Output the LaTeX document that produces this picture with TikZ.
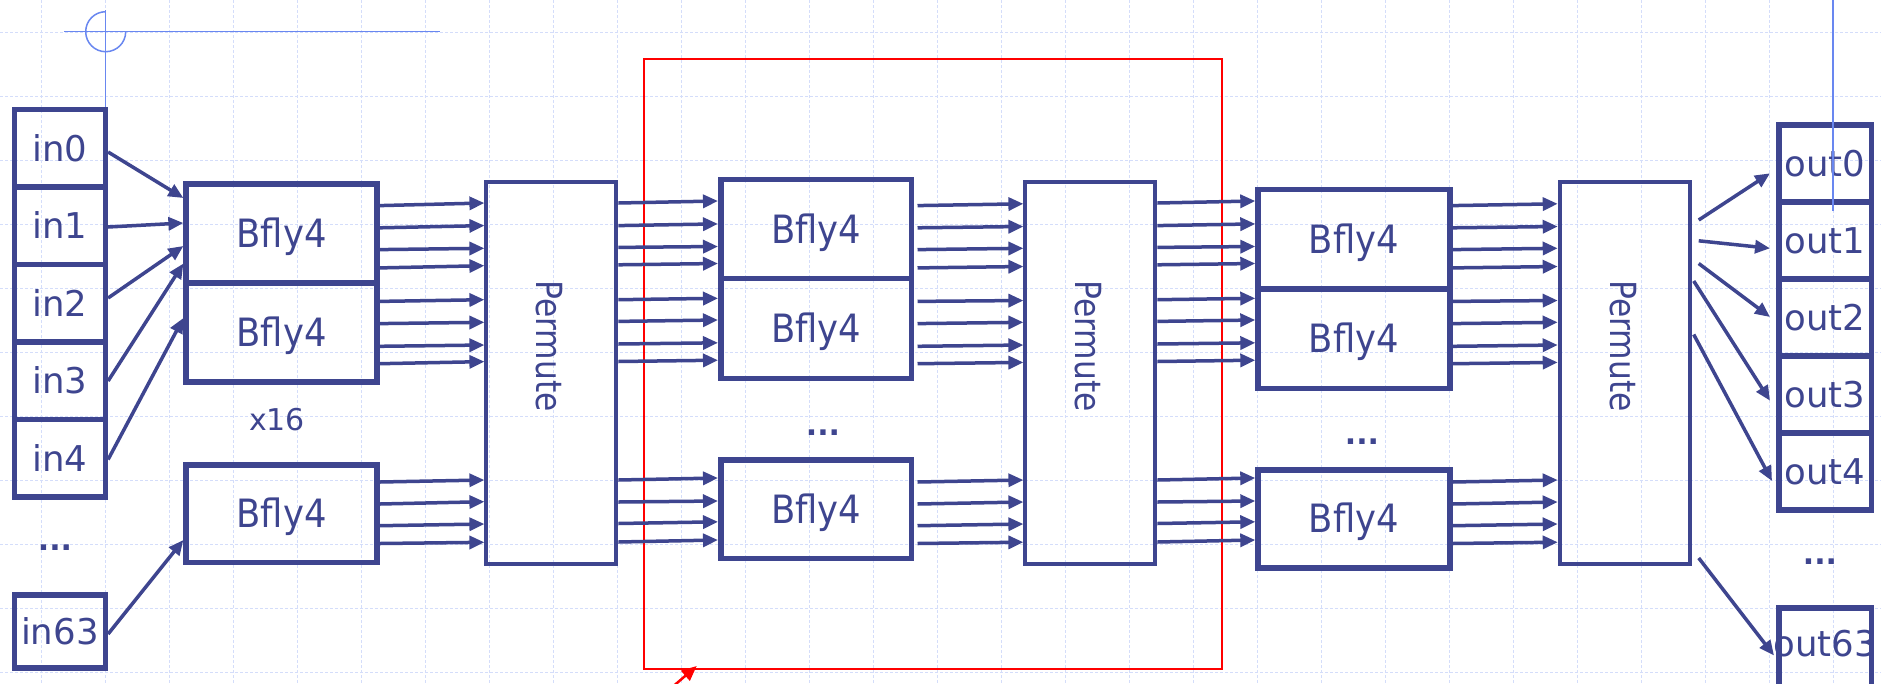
\documentclass[tikz,border=0pt]{standalone}
\usepackage{fontspec}
\setmainfont{DejaVu Sans}
\usetikzlibrary{arrows.meta,calc}
\definecolor{navy}{RGB}{62,69,143}
\definecolor{gridc}{RGB}{212,221,250}
\definecolor{markc}{RGB}{105,135,240}
\newcommand{\bigf}{\fontsize{35.5}{40}\selectfont}
\newcommand{\bflyf}{\fontsize{39}{44}\selectfont}
\newcommand{\permf}{\fontsize{36}{40}\selectfont}
\newcommand{\midf}{\fontsize{30}{34}\selectfont}
\newcommand{\bflylabel}{\scalebox{0.907}[1]{Bfly4}}
\newcommand{\permlabel}{\scalebox{0.87}[1]{Permute}}
\begin{document}
\begin{tikzpicture}[x=1pt,y=-1pt,
 gridline/.style={draw=gridc,line width=1.2pt,dash pattern=on 3pt off 2pt},
 markline/.style={draw=markc,line width=1.5pt},
 iobox/.style={draw=navy,line width=5.5pt,minimum width=91pt,minimum height=77.5pt,inner sep=0pt,text=navy,font=\bigf},
 bfly/.style={draw=navy,line width=5.5pt,minimum width=191pt,minimum height=99pt,inner sep=0pt,text=navy,font=\bflyf,text height=28pt,text depth=0pt},
 perm/.style={draw=navy,line width=4pt,minimum width=130pt,minimum height=382pt,inner sep=0pt},
 permtext/.style={rotate=-90,text=navy,font=\permf,inner sep=0pt},
 dots/.style={text=navy,font=\midf\bfseries,inner sep=0pt},
 arr/.style={draw=navy,line width=3.5pt,-{Triangle[length=15pt,width=13pt]}},
 redarr/.style={draw=red,line width=2.5pt,-{Triangle[length=15pt,width=13pt]}}]
\useasboundingbox (0,0) rectangle (1881,683);
\clip (0,0) rectangle (1881,683);
\fill[white] (0,0) rectangle (1881,683);
% background grid
\foreach \i in {0,...,28} \draw[gridline] ({41.7+64*\i},0) -- ({41.7+64*\i},683);
\foreach \j in {0,...,10} \draw[gridline] (0,{32.7+64*\j}) -- (1881,{32.7+64*\j});

% input boxes
\node[iobox] (i0) at (59.85,148) {in0};
\node[iobox] (i1) at (59.85,225.5) {in1};
\node[iobox] (i2) at (59.85,303) {in2};
\node[iobox] (i3) at (59.85,380.5) {in3};
\node[iobox] (i4) at (59.85,458) {in4};
\node[dots] (idots) at (55,548) {...};
\node[iobox,minimum height=73pt] (i63) at (59.85,631.5) {in63};

% marker lines
\draw[markline] (64,31.7) -- (440,31.7);
\draw[markline] (105.7,10) -- (i0.north -| 105.7,0);
\draw[markline] (105.7,11.7) arc[start angle=90,end angle=360,radius=20pt];

% butterfly column 1
\node[bfly] (B1a) at (281.65,233.5) {\bflylabel};
\node[bfly] (B1b) at (281.65,332.5) {\bflylabel};
\node[bfly,minimum height=97.5pt] (B1c) at (281.65,513.75) {\bflylabel};
\node[text=navy,font=\midf,inner sep=0pt] (x16) at (277,420) {x16};

% permute 1
\node[perm] (P1) at (551.4,373) {};
\node[permtext] (P1t) at (549.5,346) {\permlabel};

% red frame
\node[draw=red,line width=2pt,minimum width=578pt,minimum height=610pt,inner sep=0pt] (redbox) at (933,364) {};
\coordinate (rtail) at (655,702);
\coordinate (rtip) at (696.7,666);
\draw[redarr] (rtail) -- (rtip);

% butterfly column 2
\node[bfly,minimum width=190.5pt] (B2a) at (816,229.2) {\bflylabel};
\node[bfly,minimum width=190.5pt,minimum height=100pt] (B2b) at (816,328.7) {\bflylabel};
\node[bfly,minimum width=190.5pt,minimum height=98.6pt] (B2c) at (816,509.3) {\bflylabel};
\node[dots] (mdots) at (823,432.5) {...};

% permute 2
\node[perm] (P2) at (1090.4,373) {};
\node[permtext] (P2t) at (1088,346) {\permlabel};

% butterfly column 3
\node[bfly,minimum width=191.7pt,minimum height=99.5pt] (B3a) at (1353.9,239.25) {\bflylabel};
\node[bfly,minimum width=191.7pt,minimum height=99.3pt] (B3b) at (1353.9,338.6) {\bflylabel};
\node[bfly,minimum width=191.7pt,minimum height=98.2pt] (B3c) at (1353.9,518.9) {\bflylabel};
\node[dots] (rdots) at (1362,442) {...};

% permute 3
\node[perm] (P3) at (1624.7,373) {};
\node[permtext] (P3t) at (1623,346) {\permlabel};

% output boxes
\node[iobox,minimum width=92.5pt,minimum height=77pt] (o0) at (1825,163.5) {out0};
\node[iobox,minimum width=92.5pt,minimum height=77pt] (o1) at (1825,240.5) {out1};
\node[iobox,minimum width=92.5pt,minimum height=77pt] (o2) at (1825,317.5) {out2};
\node[iobox,minimum width=92.5pt,minimum height=77pt] (o3) at (1825,394.5) {out3};
\node[iobox,minimum width=92.5pt,minimum height=77pt] (o4) at (1825,471.5) {out4};
\node[dots] (odots) at (1820,562) {...};
\node[iobox,minimum width=92.5pt,minimum height=84pt] (o63) at (1825,650) {};
\node[text=navy,font=\bigf,inner sep=0pt] (o63t) at (1825,644) {out63};

% input arrows
\draw[arr] (i0.east |- 0,152) -- (B1a.west |- 0,198);
\draw[arr] (i1.east |- 0,227) -- (B1a.west |- 0,223);
\draw[arr] (i2.east |- 0,298) -- (B1a.west |- 0,246);
\draw[arr] (i3.east |- 0,381) -- (B1a.west |- 0,263.5);
\draw[arr] (i4.east |- 0,459.5) -- (B1b.west |- 0,318);
\draw[arr] (i63.east |- 0,634) -- (B1c.west |- 0,540);

% column 1 -> permute 1
\foreach \a/\b in {205.6/203,227.8/225.6,249.6/248.3,267.9/265.7}
  \draw[arr] (B1a.east |- 0,\a) -- (P1.west |- 0,\b);
\foreach \a/\b in {301.4/299.7,323.6/322.3,346.3/345,363.7/361.6}
  \draw[arr] (B1b.east |- 0,\a) -- (P1.west |- 0,\b);
\foreach \a/\b in {482/480,504/501.7,525.7/524,543.5/542.3}
  \draw[arr] (B1c.east |- 0,\a) -- (P1.west |- 0,\b);

% permute 1 -> column 2
\foreach \a/\b in {203/201,225.6/223.9,247.4/246.5,264.8/263.5}
  \draw[arr] (P1.east |- 0,\a) -- (B2a.west |- 0,\b);
\foreach \a/\b in {299.7/298.3,321.4/320,344/342.8,361.5/360.2}
  \draw[arr] (P1.east |- 0,\a) -- (B2b.west |- 0,\b);
\foreach \a/\b in {480/478,502/501,523.5/521.8,542/540}
  \draw[arr] (P1.east |- 0,\a) -- (B2c.west |- 0,\b);

% column 2 -> permute 2
\foreach \a/\b in {205.6/203.8,227.8/226.5,249.6/248.3,267.9/266.5}
  \draw[arr] ($(B2a.east |- 0,\a)+(3.5,0)$) -- (P2.west |- 0,\b);
\foreach \a/\b in {301.4/300.5,323.6/322.3,346.3/345,363.7/362.4}
  \draw[arr] ($(B2b.east |- 0,\a)+(3.5,0)$) -- (P2.west |- 0,\b);
\foreach \a/\b in {482/480,504/502,525.7/524,543.5/542.2}
  \draw[arr] ($(B2c.east |- 0,\a)+(3.5,0)$) -- (P2.west |- 0,\b);

% permute 2 -> column 3
\foreach \a/\b in {203/201,225.6/223.9,247.4/246.5,264.8/263.5}
  \draw[arr] (P2.east |- 0,\a) -- (B3a.west |- 0,\b);
\foreach \a/\b in {299.7/298.3,321.4/320,344/342.8,361.5/360.2}
  \draw[arr] (P2.east |- 0,\a) -- (B3b.west |- 0,\b);
\foreach \a/\b in {480/478,502/501,523.5/521.8,542/540}
  \draw[arr] (P2.east |- 0,\a) -- (B3c.west |- 0,\b);

% column 3 -> permute 3
\foreach \a/\b in {205.6/203.8,227.8/226.5,249.6/248.3,267.9/266.5}
  \draw[arr] (B3a.east |- 0,\a) -- (P3.west |- 0,\b);
\foreach \a/\b in {301.4/300.5,323.6/322.3,346.3/345,363.7/362.4}
  \draw[arr] (B3b.east |- 0,\a) -- (P3.west |- 0,\b);
\foreach \a/\b in {482/480,504/502,525.7/524,543.5/542.2}
  \draw[arr] (B3c.east |- 0,\a) -- (P3.west |- 0,\b);

% permute 3 -> outputs
\draw[arr] ($(P3.east |- 0,220)+(7,0)$) -- ($(o0.west |- 0,173.3)+(-6,0)$);
\draw[arr] ($(P3.east |- 0,240.8)+(7,0)$) -- ($(o1.west |- 0,248.3)+(-6,0)$);
\draw[arr] ($(P3.east |- 0,263.5)+(7,0)$) -- ($(o2.west |- 0,317)+(-6,0)$);
\draw[arr] ($(P3.east |- 0,281)+(2,0)$) -- ($(o3.west |- 0,400.7)+(-6,0)$);
\draw[arr] ($(P3.east |- 0,334.5)+(2,0)$) -- ($(o4.west |- 0,481)+(-4,0)$);
\draw[arr] ($(P3.east |- 0,558)+(7,0)$) -- ($(o63.west |- 0,655.5)+(-2,0)$);

% right marker line
\draw[markline] (1833,-5) -- (o1.north -| 1833,0) -- ++(0,12);
\end{tikzpicture}
\end{document}
